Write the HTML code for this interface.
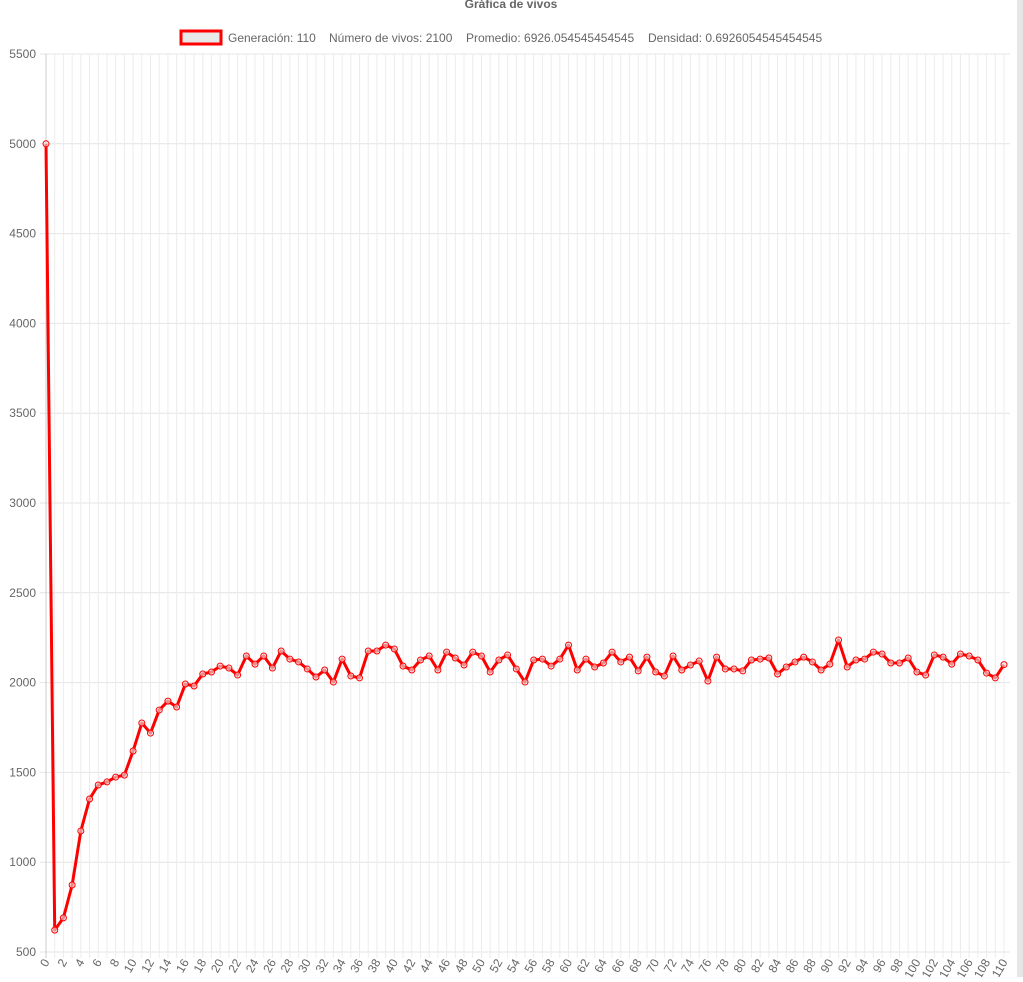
<!DOCTYPE html>
<html><head><meta charset="utf-8"><style>
body{margin:0;background:#fff;width:1023px;height:977px;overflow:hidden;font-family:"Liberation Sans",sans-serif}
svg text{font-family:"Liberation Sans",sans-serif}
</style></head><body>
<svg id="chart" width="1023" height="977" xmlns="http://www.w3.org/2000/svg">
<text x="511" y="8" text-anchor="middle" font-size="12" font-weight="bold" fill="#666">Gráfica de vivos</text>
<g>
<rect x="181" y="31" width="40" height="13" fill="#e8e8e8" stroke="#ff0000" stroke-width="3"/>
<text y="42" font-size="12" fill="#666"><tspan x="228">Generación: 110</tspan><tspan x="329">Número de vivos: 2100</tspan><tspan x="466">Promedio: 6926.054545454545</tspan><tspan x="648">Densidad: 0.6926054545454545</tspan></text>
</g>
<g id="grid"></g><g id="axes"></g><g id="series"></g>
<rect x="1017" y="0" width="6" height="977" fill="#e6e6e6"/>
</svg>
<script>
const generations = Array.from({length:111},(_,i)=>i);
const aliveCounts = [5000,622,690,873,1174,1352,1430,1447,1474,1485,1619,1775,1719,1847,1897,1864,1992,1981,2048,2059,2092,2081,2042,2148,2103,2148,2081,2176,2131,2115,2076,2031,2070,2003,2131,2037,2026,2176,2176,2209,2187,2092,2070,2126,2148,2070,2170,2137,2098,2170,2148,2059,2126,2154,2076,2003,2126,2131,2092,2131,2209,2070,2131,2087,2109,2170,2115,2142,2065,2142,2059,2037,2148,2070,2098,2120,2009,2142,2076,2076,2065,2126,2131,2137,2048,2087,2115,2142,2115,2070,2103,2237,2087,2126,2131,2170,2159,2109,2109,2137,2059,2042,2154,2142,2103,2159,2148,2126,2053,2026,2100];
const yTicks = [500,1000,1500,2000,2500,3000,3500,4000,4500,5000,5500];
const NS="http://www.w3.org/2000/svg";
const X0=46,X1=1004,Y0=952,Y1=54;
const xs=i=>X0+(X1-X0)*i/(generations.length-1);
const ys=v=>Y0-(v-500)/5000*(Y0-Y1);
function mk(t,a,p){const e=document.createElementNS(NS,t);for(const k in a)e.setAttribute(k,a[k]);p.appendChild(e);return e;}
const grid=document.getElementById('grid'),axes=document.getElementById('axes'),ser=document.getElementById('series');
yTicks.forEach(v=>{
 const l=mk('line',{x1:X0-6,x2:1010,y1:ys(v),y2:ys(v),stroke:'#e4e4e4'},grid);
 
 
 const t=mk('text',{x:X0-10,y:ys(v)+4,'text-anchor':'end','font-size':12,fill:'#666'},axes);
 t.textContent=v;
 
 
});
generations.forEach((g,i)=>{
 const l=mk('line',{x1:xs(i),x2:xs(i),y1:Y1,y2:Y0+6,stroke:i==0?'#ccc':'#ececec'},grid);
 
 
 if(i%2==0){
  const t=mk('text',{x:xs(i)+4,y:Y0+10,'text-anchor':'end','font-size':12,fill:'#666',transform:`rotate(-60 ${xs(i)+4} ${Y0+10})`},axes);
  t.textContent=g;
  
  
 }
});
const pl=mk('polyline',{points:aliveCounts.map((v,i)=>xs(i)+','+ys(v)).join(' '),fill:'none',stroke:'#ff0000','stroke-width':3,'stroke-linejoin':'round'},ser);


aliveCounts.forEach((v,i)=>{
 const c=mk('circle',{cx:xs(i),cy:ys(v),r:3,fill:'rgba(230,230,230,0.6)',stroke:'#ff0000','stroke-width':1},ser);
 
 
});
</script>
</body></html>
